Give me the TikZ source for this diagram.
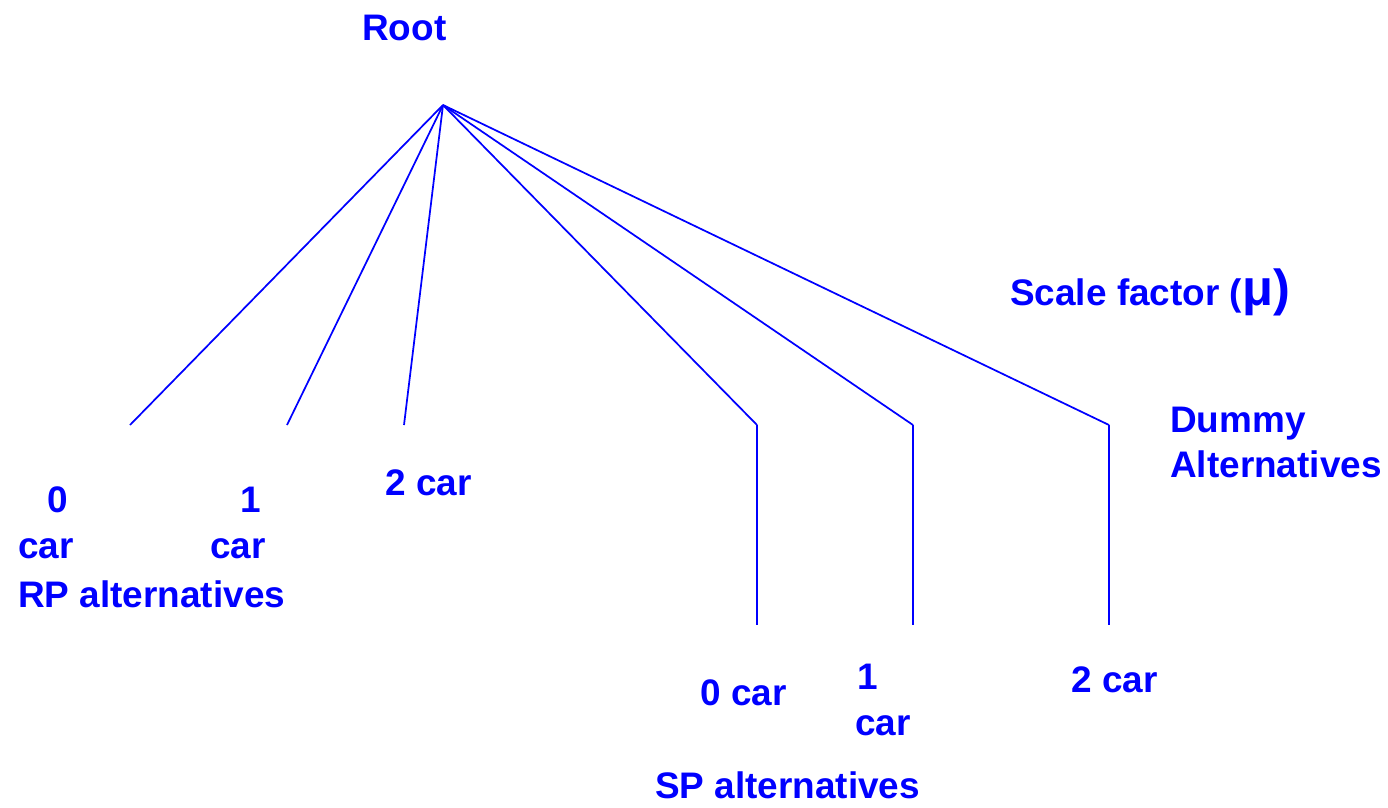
\documentclass[tikz,border=0pt]{standalone}
\usepackage{fontspec}
\setmainfont{Liberation Sans}
\begin{document}
\begin{tikzpicture}[x=0.75pt,y=-0.75pt,
  lbl/.style={anchor=base west,inner sep=0pt,text=blue,font=\fontsize{27.7}{33}\selectfont\bfseries},
  branch/.style={draw=blue,line width=1.3pt}]
\useasboundingbox (0,0) rectangle (1388,807);

% tree apex and branch ends
\coordinate (apex) at (443,105);
\coordinate (rp0) at (130,425);
\coordinate (rp1) at (287,425);
\coordinate (rp2) at (404,425);
\coordinate (sp0) at (757,425);
\coordinate (sp1) at (913,425);
\coordinate (sp2) at (1109,425);
\coordinate (sp0b) at (757,625);
\coordinate (sp1b) at (913,625);
\coordinate (sp2b) at (1109,625);

\foreach \e in {rp0,rp1,rp2,sp0,sp1,sp2}
  \draw[branch] (apex) -- (\e);
\draw[branch] (sp0) -- (sp0b);
\draw[branch] (sp1) -- (sp1b);
\draw[branch] (sp2) -- (sp2b);

% labels
\node[lbl] (root) at (362,40) {Root};
\node[lbl] (scale) at (1010,305) {Scale factor ({\fontsize{38}{40}\selectfont\raisebox{0pt}{μ)}}};
\node[lbl] (dummy) at (1170,432) {Dummy};
\node[lbl] (dummyalt) at (1170,477) {Alternatives};

\node[lbl] (rp0a) at (47,512) {0};
\node[lbl] (rp0b) at (18,558) {car};
\node[lbl] (rp1a) at (240,512) {1};
\node[lbl] (rp1b) at (210,558) {car};
\node[lbl] (rp2a) at (385,495) {2 car};
\node[lbl] (rpalt) at (18,607) {RP alternatives};

\node[lbl] (sp0a) at (700,705) {0 car};
\node[lbl] (sp1a) at (857,689) {1};
\node[lbl] (sp1c) at (855,735) {car};
\node[lbl] (sp2a) at (1071,692) {2 car};
\node[lbl] (spalt) at (655,798) {SP alternatives};
\end{tikzpicture}
\end{document}
